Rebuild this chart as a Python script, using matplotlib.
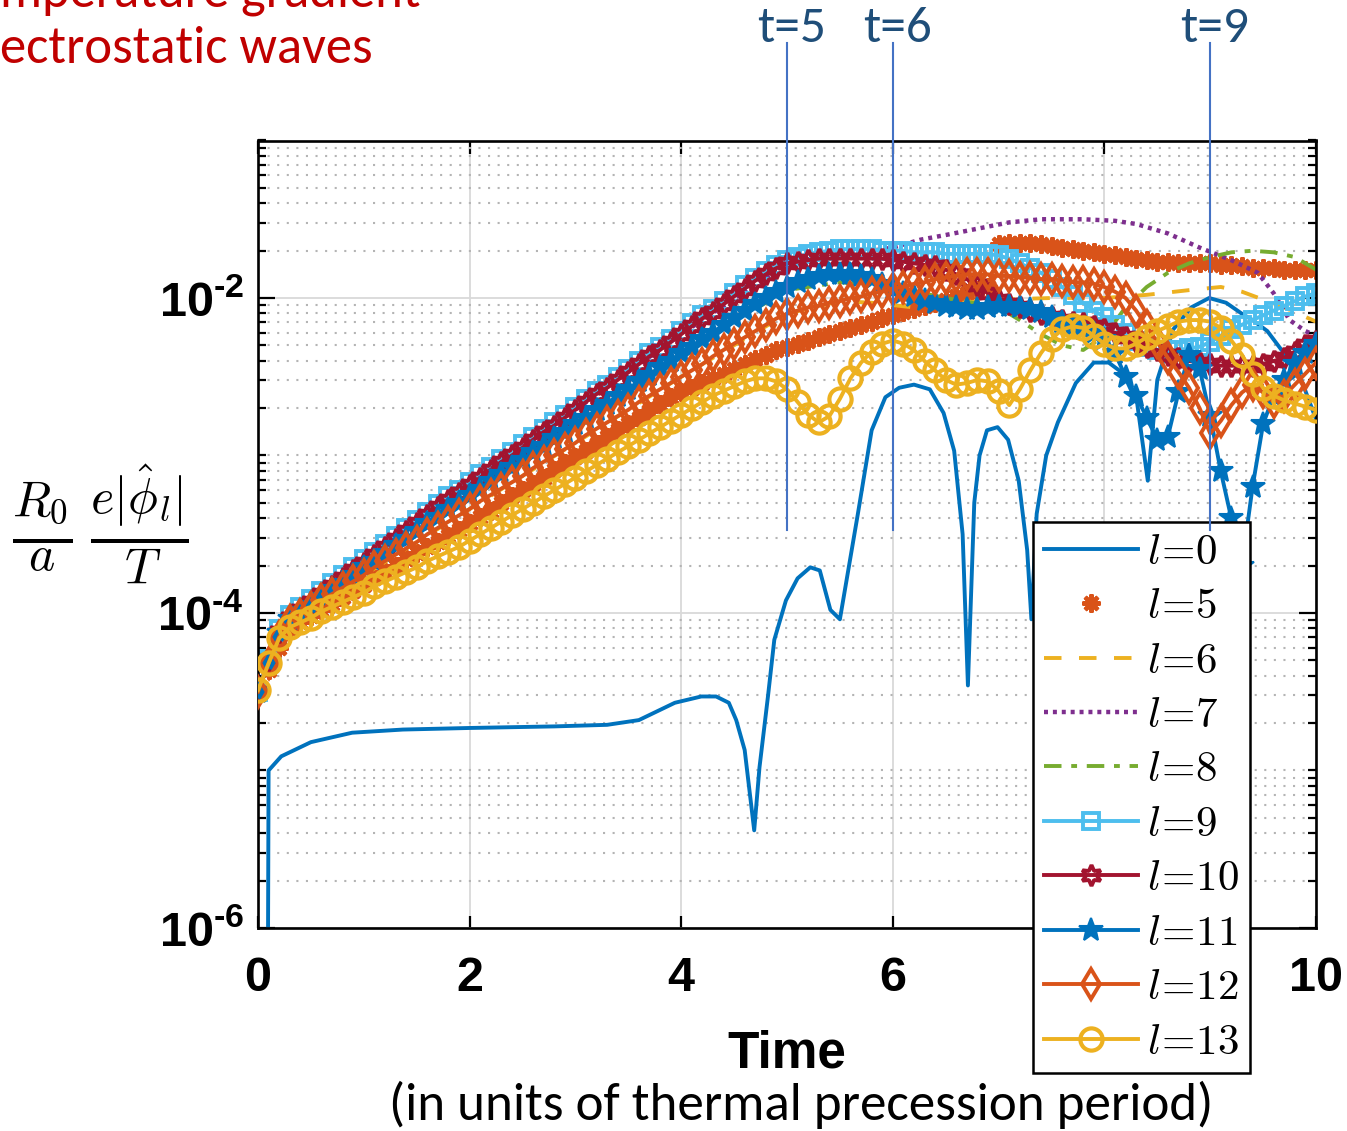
import numpy as np
import matplotlib
matplotlib.use('Agg')
import matplotlib.pyplot as plt
from matplotlib import font_manager as fm
from matplotlib.ticker import FixedLocator, LogLocator, NullFormatter
from matplotlib.transforms import blended_transform_factory

# ---------------- data (log10 of amplitude) ----------------
time = np.round(np.arange(101) * 0.1, 1)

l5_log10 = [-4.50, -4.36, -4.22, -4.10, -4.06, -4.02, -3.98, -3.94, -3.90, -3.86,
            -3.82, -3.78, -3.74, -3.70, -3.66, -3.62, -3.58, -3.55, -3.51, -3.47,
            -3.43, -3.39, -3.35, -3.30, -3.26, -3.22, -3.18, -3.14, -3.09, -3.05,
            -3.01, -2.97, -2.93, -2.88, -2.84, -2.80, -2.76, -2.72, -2.67, -2.63,
            -2.60, -2.57, -2.54, -2.51, -2.48, -2.45, -2.42, -2.39, -2.36, -2.33,
            -2.31, -2.29, -2.27, -2.25, -2.23, -2.21, -2.19, -2.17, -2.15, -2.13,
            -2.11, -2.09, -2.07, -2.05, -2.03, -2.01, -1.99, -1.97, -1.95, -1.93,
            -1.66, -1.65, -1.65, -1.65, -1.66, -1.67, -1.68, -1.69, -1.70, -1.71,
            -1.72, -1.73, -1.74, -1.75, -1.76, -1.77, -1.77, -1.78, -1.78, -1.78,
            -1.78, -1.79, -1.79, -1.80, -1.81, -1.81, -1.81, -1.82, -1.82, -1.82,
            -1.82]

l9_log10 = [-4.50, -4.29, -4.10, -4.01, -3.96, -3.91, -3.86, -3.81, -3.76, -3.71,
            -3.66, -3.61, -3.56, -3.51, -3.46, -3.41, -3.36, -3.31, -3.26, -3.22,
            -3.17, -3.12, -3.07, -3.02, -2.98, -2.93, -2.88, -2.83, -2.79, -2.74,
            -2.69, -2.64, -2.59, -2.55, -2.50, -2.45, -2.40, -2.35, -2.31, -2.26,
            -2.21, -2.16, -2.11, -2.07, -2.02, -1.97, -1.92, -1.87, -1.83, -1.79,
            -1.76, -1.74, -1.72, -1.71, -1.70, -1.69, -1.69, -1.69, -1.69, -1.70,
            -1.70, -1.70, -1.71, -1.71, -1.71, -1.72, -1.72, -1.72, -1.72, -1.72,
            -1.73, -1.75, -1.78, -1.81, -1.84, -1.88, -1.93, -1.98, -2.03, -2.08,
            -2.12, -2.17, -2.22, -2.27, -2.31, -2.33, -2.33, -2.33, -2.32, -2.31,
            -2.28, -2.24, -2.20, -2.17, -2.14, -2.11, -2.08, -2.05, -2.02, -1.99,
            -1.97]

l10_log10 = [-4.50, -4.30, -4.12, -4.03, -3.98, -3.93, -3.88, -3.83, -3.78, -3.73,
             -3.68, -3.63, -3.58, -3.53, -3.48, -3.43, -3.38, -3.33, -3.28, -3.24,
             -3.19, -3.14, -3.09, -3.04, -3.00, -2.95, -2.90, -2.85, -2.81, -2.76,
             -2.71, -2.66, -2.61, -2.57, -2.52, -2.47, -2.42, -2.37, -2.33, -2.28,
             -2.23, -2.18, -2.13, -2.09, -2.04, -1.99, -1.94, -1.89, -1.85, -1.81,
             -1.78, -1.77, -1.76, -1.75, -1.75, -1.75, -1.75, -1.75, -1.75, -1.75,
             -1.76, -1.77, -1.78, -1.79, -1.80, -1.82, -1.85, -1.88, -1.92, -1.97,
             -2.01, -2.04, -2.06, -2.08, -2.10, -2.12, -2.14, -2.15, -2.16, -2.18,
             -2.20, -2.22, -2.25, -2.28, -2.31, -2.33, -2.36, -2.38, -2.40, -2.41,
             -2.42, -2.43, -2.43, -2.43, -2.43, -2.42, -2.40, -2.38, -2.34, -2.30,
             -2.27]

l11_log10 = [-4.50, -4.31, -4.13, -4.04, -3.99, -3.95, -3.90, -3.85, -3.81, -3.76,
             -3.71, -3.67, -3.62, -3.57, -3.53, -3.48, -3.43, -3.39, -3.34, -3.30,
             -3.25, -3.21, -3.16, -3.12, -3.07, -3.03, -2.98, -2.94, -2.89, -2.85,
             -2.80, -2.76, -2.71, -2.67, -2.62, -2.58, -2.53, -2.49, -2.44, -2.40,
             -2.35, -2.31, -2.26, -2.22, -2.17, -2.13, -2.08, -2.04, -2.00, -1.96,
             -1.93, -1.90, -1.88, -1.86, -1.85, -1.85, -1.85, -1.86, -1.88, -1.91,
             -1.94, -1.97, -1.99, -2.01, -2.03, -2.05, -2.06, -2.07, -2.07, -2.06,
             -2.05, -2.05, -2.06, -2.07, -2.09, -2.12, -2.15, -2.18, -2.20, -2.22,
             -2.26, -2.35, -2.50, -2.62, -2.76, -2.90, -2.88, -2.60, -2.36, -2.45,
             -2.75, -3.10, -3.40, -3.70, -3.20, -2.80, -2.62, -2.52, -2.42, -2.35,
             -2.29]

l12_log10 = [-4.50, -4.32, -4.15, -4.05, -4.01, -3.97, -3.92, -3.88, -3.84, -3.80,
             -3.76, -3.71, -3.67, -3.63, -3.59, -3.55, -3.50, -3.46, -3.42, -3.38,
             -3.34, -3.29, -3.25, -3.21, -3.17, -3.13, -3.08, -3.04, -3.00, -2.96,
             -2.92, -2.87, -2.83, -2.79, -2.75, -2.71, -2.66, -2.62, -2.58, -2.54,
             -2.50, -2.46, -2.42, -2.37, -2.33, -2.29, -2.25, -2.21, -2.17, -2.13,
             -2.10, -2.08, -2.06, -2.05, -2.03, -2.02, -2.00, -1.99, -1.97, -1.96,
             -1.94, -1.93, -1.91, -1.90, -1.88, -1.87, -1.86, -1.85, -1.85, -1.85,
             -1.86, -1.86, -1.87, -1.87, -1.88, -1.88, -1.89, -1.90, -1.90, -1.91,
             -1.93, -1.96, -2.00, -2.08, -2.18, -2.28, -2.38, -2.47, -2.57, -2.70,
             -2.86, -2.78, -2.68, -2.60, -2.55, -2.60, -2.66, -2.62, -2.55, -2.48,
             -2.41]

l13_log10 = [-4.49, -4.32, -4.16, -4.09, -4.06, -4.03, -3.99, -3.96, -3.93, -3.90,
             -3.87, -3.83, -3.80, -3.77, -3.74, -3.71, -3.67, -3.64, -3.61, -3.58,
             -3.54, -3.50, -3.46, -3.42, -3.38, -3.34, -3.30, -3.26, -3.22, -3.18,
             -3.14, -3.10, -3.06, -3.02, -2.98, -2.94, -2.90, -2.86, -2.82, -2.78,
             -2.74, -2.70, -2.66, -2.62, -2.59, -2.56, -2.53, -2.51, -2.51, -2.53,
             -2.58, -2.66, -2.74, -2.79, -2.75, -2.64, -2.51, -2.41, -2.34, -2.29,
             -2.27, -2.29, -2.33, -2.40, -2.46, -2.52, -2.55, -2.54, -2.52, -2.53,
             -2.59, -2.68, -2.58, -2.46, -2.35, -2.26, -2.20, -2.18, -2.19, -2.24,
             -2.29, -2.32, -2.32, -2.29, -2.25, -2.21, -2.18, -2.15, -2.14, -2.14,
             -2.15, -2.19, -2.27, -2.36, -2.48, -2.57, -2.62, -2.65, -2.67, -2.69,
             -2.71]

# line-only series (irregular sampling read at key points)
l0_time = [0.09, 0.10, 0.22, 0.50, 0.89, 1.37, 2.00, 2.80, 3.30, 3.60, 3.94, 4.19,
           4.33, 4.45, 4.52, 4.60, 4.69, 4.74, 4.82, 4.88, 4.99, 5.10, 5.22, 5.31,
           5.41, 5.50, 5.67, 5.80, 5.93, 6.06, 6.20, 6.35, 6.48, 6.58, 6.66, 6.71,
           6.77, 6.82, 6.89, 6.99, 7.09, 7.19, 7.27, 7.31, 7.36, 7.45, 7.56, 7.73,
           7.90, 8.04, 8.18, 8.31, 8.41, 8.50, 8.65, 8.82, 8.99, 9.15, 9.30, 9.40,
           9.54, 9.73, 9.85, 10.0]
l0_log10 = [-7.00, -5.00, -4.91, -4.82, -4.76, -4.74, -4.73, -4.72, -4.71, -4.68, -4.57, -4.53,
            -4.53, -4.57, -4.68, -4.87, -5.38, -4.98, -4.53, -4.17, -3.92, -3.78, -3.71, -3.73,
            -3.98, -4.04, -3.37, -2.84, -2.63, -2.57, -2.55, -2.58, -2.73, -2.97, -3.50, -4.46,
            -3.30, -3.00, -2.84, -2.82, -2.90, -3.16, -3.60, -4.04, -3.37, -3.00, -2.79, -2.54,
            -2.41, -2.41, -2.48, -2.67, -3.16, -2.52, -2.20, -2.06, -2.00, -2.03, -2.10, -2.14,
            -2.21, -2.38, -2.50, -2.77]

l6_time = [0.0, 0.1, 0.2, 0.3, 1.0, 2.0, 3.0, 4.0, 5.0, 5.5, 5.8, 6.2, 6.5, 7.0, 7.5,
           8.0, 8.4, 8.8, 9.1, 9.3, 9.5, 9.7, 10.0]
l6_log10 = [-4.50, -4.32, -4.15, -4.05, -3.76, -3.34, -2.92, -2.50, -2.10, -2.02, -2.03,
            -2.06, -2.04, -2.01, -2.00, -2.00, -1.98, -1.95, -1.93, -1.96, -2.01, -2.06, -2.15]

l7_time = [0.0, 0.1, 0.2, 0.3, 1.0, 2.0, 3.0, 4.0, 5.0, 5.5, 5.8, 6.0, 6.26, 6.5, 6.8,
           7.1, 7.4, 7.8, 8.1, 8.3, 8.6, 8.9, 9.2, 9.45, 9.6, 9.75, 9.9, 10.0]
l7_log10 = [-4.50, -4.30, -4.12, -4.03, -3.68, -3.19, -2.71, -2.23, -1.78, -1.72, -1.70,
            -1.68, -1.63, -1.60, -1.56, -1.52, -1.50, -1.50, -1.51, -1.53, -1.59, -1.68,
            -1.76, -1.84, -1.97, -2.14, -2.21, -2.24]

l8_time = [0.0, 0.1, 0.2, 0.3, 1.0, 2.0, 3.0, 4.0, 5.0, 5.5, 6.0, 6.5, 7.0, 7.2, 7.4,
           7.6, 7.8, 8.0, 8.2, 8.4, 8.6, 8.8, 9.0, 9.2, 9.4, 9.6, 9.8, 10.0]
l8_log10 = [-4.50, -4.31, -4.13, -4.04, -3.71, -3.25, -2.80, -2.35, -1.95, -1.90, -1.93,
            -2.00, -2.06, -2.14, -2.23, -2.30, -2.33, -2.24, -2.06, -1.93, -1.84, -1.78,
            -1.74, -1.71, -1.70, -1.71, -1.74, -1.82]

labels = [r'$l\!=\!0$', r'$l\!=\!5$', r'$l\!=\!6$', r'$l\!=\!7$', r'$l\!=\!8$',
          r'$l\!=\!9$', r'$l\!=\!10$', r'$l\!=\!11$', r'$l\!=\!12$', r'$l\!=\!13$']
x_ticks = [0, 2, 4, 6, 8, 10]
y_ticks = [1e-6, 1e-4, 1e-2]
y_ticklabels = [r'$\mathbf{10}^{\text{-}\mathbf{6}}$', r'$\mathbf{10}^{\text{-}\mathbf{4}}$',
                r'$\mathbf{10}^{\text{-}\mathbf{2}}$']
t_marks = [5, 6, 9]

# ---------------- fonts ----------------
names = {f.name for f in fm.fontManager.ttflist}
def pick(*cands):
    for c in cands:
        if c in names:
            return c
    return 'DejaVu Sans'
axis_font = pick('Liberation Sans', 'Arial', 'DejaVu Sans')
slide_font = pick('Carlito', 'Lato', 'Open Sans', 'DejaVu Sans')

plt.rcParams['font.family'] = [axis_font, 'DejaVu Sans']
plt.rcParams['mathtext.fontset'] = 'custom'
plt.rcParams['mathtext.bf'] = axis_font + ':bold'
plt.rcParams['mathtext.rm'] = axis_font + ':bold'
plt.rcParams['mathtext.it'] = axis_font + ':bold:italic'
plt.rcParams['axes.unicode_minus'] = False

W, H = 1347, 1131
fig = plt.figure(figsize=(W / 100, H / 100), dpi=100)
fig.patch.set_facecolor('white')
ax = fig.add_axes([258 / W, 1 - 928 / H, (1316 - 258) / W, (928 - 140.5) / H])

c_blue, c_orange, c_yellow = '#0072BD', '#D95319', '#EDB120'
c_purple, c_green, c_cyan, c_red = '#7E2F8E', '#77AC30', '#4DBEEE', '#A2142F'
lw = 2.8

def v(a):
    return 10.0 ** np.asarray(a)

h = []
h += ax.plot(l0_time, v(l0_log10), color=c_blue, lw=lw, zorder=2)
h += ax.plot(time, v(l5_log10), ls='none', marker=(8, 2, 0), ms=13, mew=3.0,
             color=c_orange, zorder=2.1)
h += ax.plot(l6_time, v(l6_log10), color=c_yellow, lw=lw, dashes=(4.5, 4.5), zorder=2.2)
h += ax.plot(l7_time, v(l7_log10), color=c_purple, lw=lw + 0.4, dashes=(0.9, 1.1), zorder=2.3)
h += ax.plot(l8_time, v(l8_log10), color=c_green, lw=lw, dashes=(4.5, 2.5, 1.5, 2.5), zorder=2.4)
h += ax.plot(time, v(l9_log10), color=c_cyan, lw=lw, marker='s', ms=12, mew=2.8,
             mfc='none', zorder=2.5)
h += ax.plot(time, v(l10_log10), color=c_red, lw=lw, marker=(6, 1, 0), ms=15, mew=2.8,
             mfc='none', zorder=2.6)
h += ax.plot(time, v(l11_log10), color=c_blue, lw=lw, marker='*', ms=18, mew=1.5,
             mfc=c_blue, zorder=2.7)
h += ax.plot(time, v(l12_log10), color=c_orange, lw=lw, marker='d', ms=15, mew=2.8,
             mfc='none', zorder=2.8)
h += ax.plot(time, v(l13_log10), color=c_yellow, lw=lw, marker='o', ms=16, mew=3.0,
             mfc='none', zorder=2.9)

ax.set_yscale('log')
ax.set_xlim(0, 10)
ax.set_ylim(1e-6, 1e-1)

ax.xaxis.set_major_locator(FixedLocator(x_ticks))
ax.set_xticklabels([str(t) for t in x_ticks], fontsize=35, fontweight='bold')
ax.yaxis.set_major_locator(FixedLocator(y_ticks))
ax.yaxis.set_minor_locator(LogLocator(base=10, subs=np.arange(1, 10), numticks=50))
ax.yaxis.set_minor_formatter(NullFormatter())
ax.set_yticklabels(y_ticklabels, fontsize=35)

ax.tick_params(which='both', direction='in', top=True, right=True, width=1.6, colors='black')
ax.tick_params(axis='x', which='major', length=9, pad=20)
ax.tick_params(axis='y', which='major', length=12, pad=10)
ax.tick_params(axis='y', which='minor', length=6)
for s in ax.spines.values():
    s.set_linewidth(1.9)

ax.grid(True, which='major', color='#d9d9d9', lw=1.3, ls='-')
ax.grid(True, which='minor', axis='y', color='#b4b4b4', lw=1.5, ls=(0, (1, 3.6)))
ax.set_axisbelow(True)

leg = ax.legend(h, labels, loc='upper left', bbox_to_anchor=((1033 - 258) / 1058, (928 - 522) / 787.5),
                borderaxespad=0, frameon=True, fancybox=False, edgecolor='black',
                framealpha=1, fontsize=31, handlelength=2.2, handletextpad=0.2,
                labelspacing=0.335, borderpad=0.25)
leg.get_frame().set_linewidth(1.8)
leg.set_zorder(6)
for t in leg.get_texts():
    t.set_math_fontfamily('cm')

# axis labels
fig.text(787 / W, 1 - 1068 / H, 'Time', fontsize=37, fontweight='bold', ha='center',
         va='baseline')
ylab = fig.text(100 / W, 1 - 524 / H, r'$\frac{R_0}{a}\,\frac{e|\hat{\phi}_l|}{T}$',
                math_fontfamily='cm', fontsize=30, ha='center', va='center')
sub = fig.text(801 / W, 1 - 1120 / H, '(in units of thermal precession period)',
               family=[slide_font, 'DejaVu Sans'], fontsize=32, ha='center', va='baseline')

# slide annotations
red = '#C00000'
title2 = fig.text(0, 1 - 63 / H, 'ectrostatic waves', family=[slide_font, 'DejaVu Sans'],
                  fontsize=38, color=red, ha='left', va='baseline')
title1 = fig.text(0, 1 - 6 / H, 'mperature gradient', family=[slide_font, 'DejaVu Sans'],
                  fontsize=38, color=red, ha='left', va='baseline')

trans = blended_transform_factory(ax.transData, fig.transFigure)
tlabels = []
for tm in t_marks:
    ax.plot([tm, tm], [1 - 530 / H, 1 - 43 / H], transform=trans, clip_on=False,
            color='#4472C4', lw=1.5, zorder=10)
    tlabels.append(ax.text(tm + 0.04, 1 - 42 / H, f't={tm}', transform=trans,
                           family=[slide_font, 'DejaVu Sans'], fontsize=36,
                           color='#1F4E79', ha='center', va='baseline', clip_on=False,
                           zorder=10))

# scale slide texts to the measured widths
fig.canvas.draw()
r = fig.canvas.get_renderer()
def fit(txt, target):
    w = txt.get_window_extent(r).width
    if w > 0:
        txt.set_fontsize(txt.get_fontsize() * target / w)
fit(title2, 372)
title1.set_fontsize(title2.get_fontsize())
fit(sub, 827)
fit(ylab, 178)
for tl in tlabels:
    fit(tl, 69)

fig.savefig('out.png', dpi=100, facecolor='white')
